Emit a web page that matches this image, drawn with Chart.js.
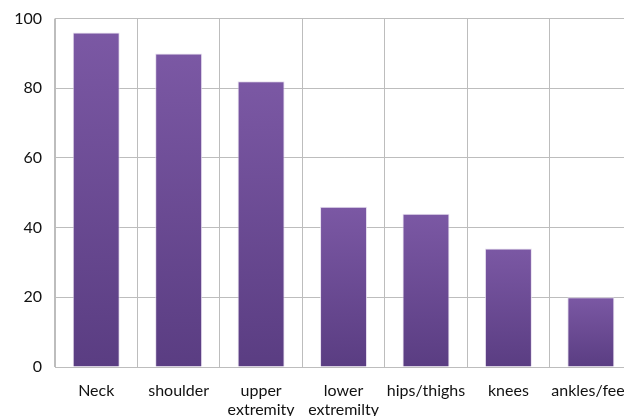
<!DOCTYPE html>
<html>
<head>
<meta charset="utf-8">
<script src="https://cdn.jsdelivr.net/npm/chart.js@4/dist/chart.umd.min.js"></script>
<style>
  html, body { margin: 0; padding: 0; background: #fff; overflow: hidden; }
  #wrap { width: 645px; height: 420px; margin-top: -4px; }
</style>
</head>
<body>
<div id="wrap"><canvas id="chart" width="645" height="420"></canvas></div>
<script>
// data
const categories = ["Neck", "shoulder", ["upper", "extremity"], ["lower", "extremilty"], "hips/thighs", "knees", "ankles/feet"];
const values = [96, 90, 82, 46, 44, 34, 20];
const yTicks = [0, 20, 40, 60, 80, 100];

const TOP_COLOR = "#7b58a4";
const BOTTOM_COLOR = "#5a3d82";
const GRID = "#bdbdbd";

// each bar gets its own top-to-bottom gradient
function barFill(ctx) {
    const chart = ctx.chart;
    if (!chart.chartArea || ctx.dataIndex === undefined) return TOP_COLOR;
    const y = chart.scales.y;
    const top = y.getPixelForValue(values[ctx.dataIndex]);
    const bottom = y.getPixelForValue(0);
    const g = chart.ctx.createLinearGradient(0, top, 0, bottom);
    g.addColorStop(0, TOP_COLOR);
    g.addColorStop(1, BOTTOM_COLOR);
    return g;
}

new Chart(document.getElementById("chart"), {
    type: "bar",
    data: {
        labels: categories,
        datasets: [{
            data: values,
            backgroundColor: barFill,
            borderColor: "rgba(225,215,235,0.8)",
            borderWidth: 1,
            barPercentage: 0.57,
            categoryPercentage: 1
        }]
    },
    options: {
        responsive: false,
        animation: false,
        layout: { padding: { top: 14, right: 8, left: 0, bottom: 0 } },
        plugins: { legend: { display: false }, tooltip: { enabled: false } },
        scales: {
            x: {
                grid: { color: GRID, drawTicks: false, offset: true },
                border: { color: GRID, width: 1 },
                ticks: {
                    color: "#111",
                    font: { family: "Lato", size: 16 },
                    maxRotation: 0,
                    autoSkip: false,
                    padding: 14
                },
                afterFit: (s) => { s.height = 49; }
            },
            y: {
                min: 0,
                max: 100,
                afterBuildTicks: (s) => { s.ticks = yTicks.map(v => ({ value: v })); },
                grid: { color: GRID, drawTicks: false },
                border: { color: GRID, width: 1 },
                ticks: {
                    color: "#111",
                    font: { family: "Lato", size: 16 },
                    padding: 13
                },
                afterFit: (s) => { s.width = 55; }
            }
        }
    }
});
</script>
</body>
</html>
